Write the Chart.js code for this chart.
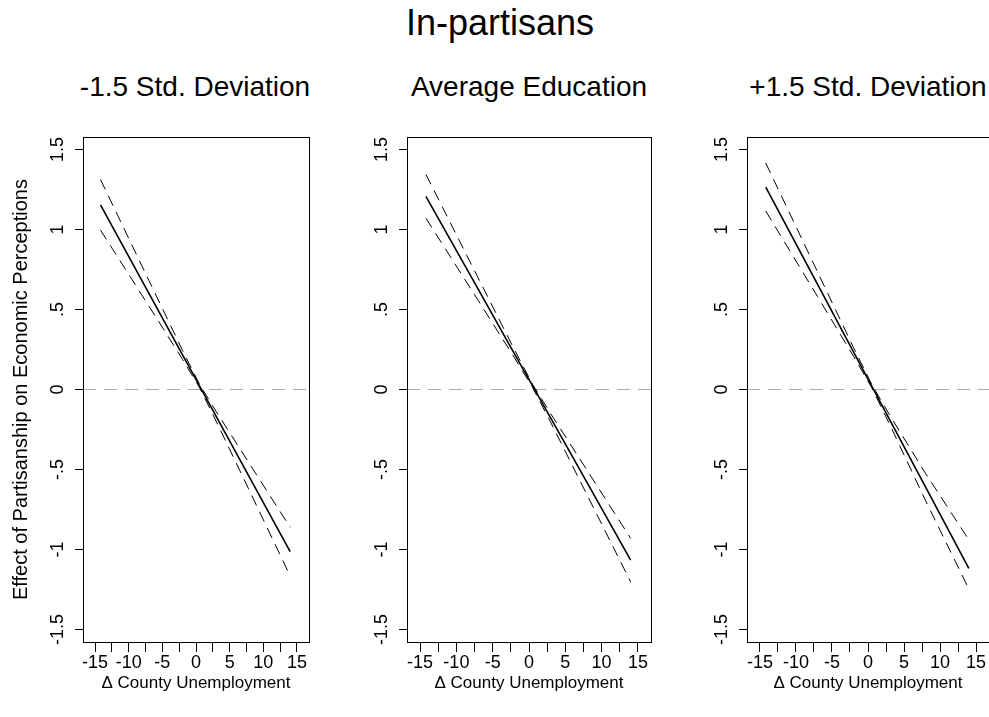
<!DOCTYPE html>
<html><head><meta charset="utf-8">
<script src="https://cdn.jsdelivr.net/npm/chart.js@4/dist/chart.umd.min.js"></script>
<style>
html,body{margin:0;padding:0;background:#fff;overflow:hidden;width:989px;height:717px;}
body{position:relative;font-family:"Liberation Sans",Arial,sans-serif;}
.t{position:absolute;white-space:nowrap;line-height:1;color:#000;transform:translateX(-50%);}
canvas{position:absolute;}
</style></head><body>
<div class="t" id="main" style="left:500px;top:5px;font-size:36px"></div>
<div class="t" id="st0" style="top:73px;font-size:28px"></div>
<div class="t" id="st1" style="top:73px;font-size:28px"></div>
<div class="t" id="st2" style="top:73px;font-size:28px"></div>
<canvas id="c0" width="335" height="617" style="left:0px;top:100px"></canvas>
<canvas id="c1" width="335" height="617" style="left:335px;top:100px"></canvas>
<canvas id="c2" width="319" height="617" style="left:670px;top:100px"></canvas>
<script>
// ---- data ----
const mainTitle = 'In-partisans';
const panelTitles = ['-1.5 Std. Deviation', 'Average Education', '+1.5 Std. Deviation'];
const xAxisTitle = '\u0394 County Unemployment';
const yAxisTitle = 'Effect of Partisanship on Economic Perceptions';

const xValues = [-14.2, -7, -2, 0.5, 3, 8, 14.0];

const lowEduEstimate = [1.154, 0.601, 0.216, 0.024, -0.168, -0.552, -1.013];
const lowEduUpper    = [1.312, 0.681, 0.244, 0.034, -0.138, -0.467, -0.861];
const lowEduLower    = [0.996, 0.521, 0.188, 0.014, -0.198, -0.637, -1.165];

const avgEduEstimate = [1.207, 0.627, 0.223, 0.022, -0.179, -0.582, -1.066];
const avgEduUpper    = [1.344, 0.697, 0.248, 0.032, -0.152, -0.505, -0.930];
const avgEduLower    = [1.070, 0.557, 0.198, 0.012, -0.206, -0.659, -1.202];

const highEduEstimate = [1.265, 0.657, 0.234, 0.023, -0.188, -0.610, -1.117];
const highEduUpper    = [1.415, 0.734, 0.261, 0.033, -0.159, -0.525, -0.939];
const highEduLower    = [1.115, 0.580, 0.207, 0.013, -0.217, -0.695, -1.246];

const referenceLevel = 0;
const xTickValues = [-15, -12.5, -10, -7.5, -5, -2.5, 0, 2.5, 5, 7.5, 10, 12.5, 15];
const xTickLabels = ['-15', '', '-10', '', '-5', '', '0', '', '5', '', '10', '', '15'];
const yTickValues = [-1.5, -1, -0.5, 0, 0.5, 1, 1.5];
const yTickLabels = ['-1.5', '-1', '-.5', '0', '.5', '1', '1.5'];
const xLimits = [-16.8, 16.8];
const yLimits = [-1.5775, 1.5775];

// ---- drawing ----
Chart.defaults.font.family = "'Liberation Sans', Arial, sans-serif";
Chart.defaults.color = '#000';
document.getElementById('main').textContent = mainTitle;

const boxPlugin = {
  id: 'box',
  afterDraw(chart) {
    const a = chart.chartArea, ctx = chart.ctx;
    const l = Math.round(a.left - 0.5) + 0.5, r = Math.round(a.right - 0.5) + 0.5;
    const t = Math.round(a.top - 0.5) + 0.5, b = Math.round(a.bottom - 0.5) + 0.5;
    ctx.save();
    ctx.strokeStyle = '#000';
    ctx.lineWidth = 1;
    ctx.strokeRect(l, t, r - l, b - t);
    ctx.restore();
  }
};

const pts = (ys) => ys.map((y, i) => ({x: xValues[i], y}));

const panels = [
  {est: lowEduEstimate, up: lowEduUpper, lo: lowEduLower, yTitle: true, yWidth: 83, pad: {left: 0, right: 26, top: 37, bottom: 23}, titleX: 195},
  {est: avgEduEstimate, up: avgEduUpper, lo: avgEduLower, yTitle: false, yWidth: 40, pad: {left: 32, right: 19, top: 37, bottom: 23}, titleX: 529},
  {est: highEduEstimate, up: highEduUpper, lo: highEduLower, yTitle: false, yWidth: 40, pad: {left: 37, right: -2, top: 37, bottom: 23}, titleX: 868}
];

panels.forEach((p, k) => {
  const st = document.getElementById('st' + k);
  st.textContent = panelTitles[k];
  st.style.left = p.titleX + 'px';

  new Chart(document.getElementById('c' + k), {
    type: 'line',
    data: {
      datasets: [
        {data: pts(p.est), borderColor: '#000', borderWidth: 1.6, pointRadius: 0, tension: 0},
        {data: pts(p.up), borderColor: '#000', borderWidth: 1, borderDash: [11, 7], pointRadius: 0, tension: 0},
        {data: pts(p.lo), borderColor: '#000', borderWidth: 1, borderDash: [11, 7], pointRadius: 0, tension: 0},
        {data: xLimits.map(x => ({x, y: referenceLevel})), borderColor: '#ababab', borderWidth: 1, borderDash: [13, 8], pointRadius: 0}
      ]
    },
    options: {
      responsive: false,
      animation: false,
      devicePixelRatio: 1,
      layout: {padding: p.pad},
      plugins: {legend: {display: false}, tooltip: {enabled: false}},
      scales: {
        x: {
          type: 'linear', min: xLimits[0], max: xLimits[1],
          afterBuildTicks: s => { s.ticks = xTickValues.map(v => ({value: v})); },
          afterFit: s => { s.height = 52; },
          ticks: {autoSkip: false, minRotation: 0, maxRotation: 0, padding: 0, color: '#000',
                  font: {size: 18}, callback: (v, i) => xTickLabels[i]},
          grid: {drawOnChartArea: false, drawTicks: true, tickLength: 10, color: '#000', lineWidth: 1},
          border: {display: true, color: '#000', width: 1},
          title: {display: true, text: xAxisTitle, color: '#000', font: {size: 17}, padding: 0}
        },
        y: {
          type: 'linear', min: yLimits[0], max: yLimits[1],
          afterBuildTicks: s => { s.ticks = yTickValues.map(v => ({value: v})); },
          afterFit: s => { s.width = p.yWidth; },
          ticks: {autoSkip: false, minRotation: 90, maxRotation: 90, crossAlign: 'center', padding: 1,
                  color: '#000', font: {size: 18}, callback: (v, i) => yTickLabels[i]},
          grid: {drawOnChartArea: false, drawTicks: true, tickLength: 8, color: '#000', lineWidth: 1},
          border: {display: true, color: '#000', width: 1},
          title: {display: p.yTitle, text: yAxisTitle, color: '#000', font: {size: 20}, padding: {top: 9, bottom: 0}}
        }
      }
    },
    plugins: [boxPlugin]
  });
});
</script>
</body></html>
